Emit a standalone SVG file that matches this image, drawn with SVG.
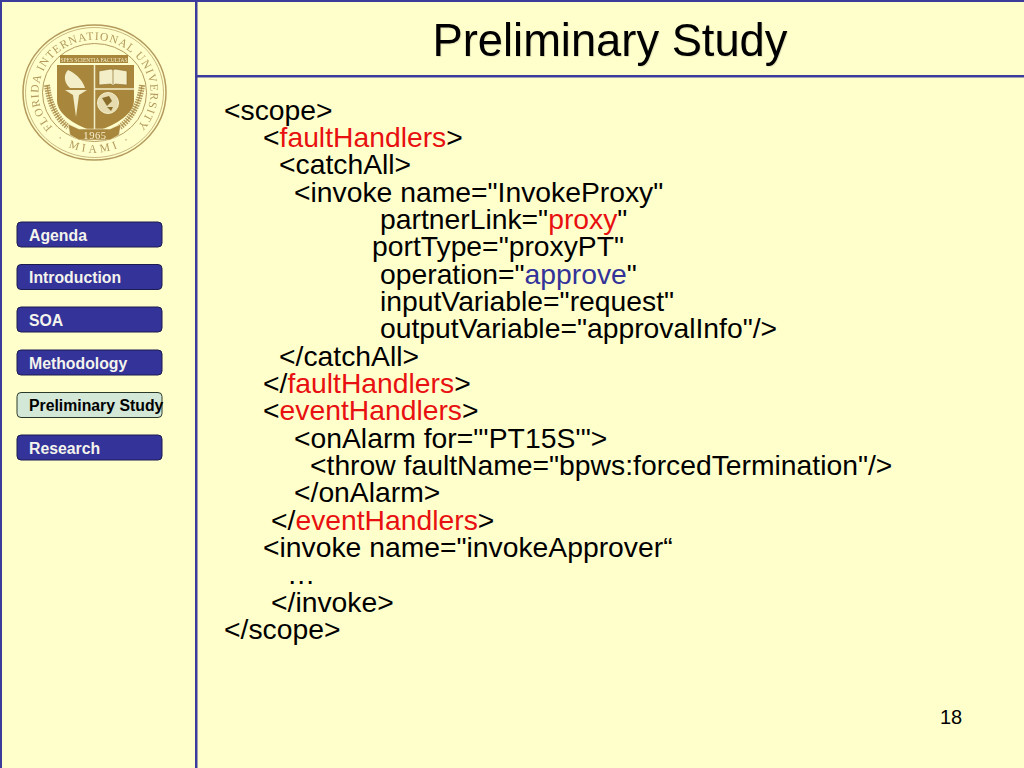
<svg xmlns="http://www.w3.org/2000/svg" width="1024" height="768" viewBox="0 0 1024 768">
<style>
text{font-family:"Liberation Sans",Arial,sans-serif}
.code{font-size:28.300px;fill:#000}
.r{fill:#e81010}
.b{fill:#333399}
.btn{fill:#333399;stroke:#1c1c50;stroke-width:1}
.cur{fill:#d4e8d8;stroke:#2a3a2a;stroke-width:1}
.lbl{font-size:15.800px;font-weight:bold;fill:#f4f4ec}
.lblc{font-size:15.800px;font-weight:bold;fill:#000}
.g{fill:#a8873c}
.gl{fill:none;stroke:#b39a5c}
.st{font-size:11.500px;fill:#b39a5c;font-family:"Liberation Serif",serif}
</style>
<defs>
<path id="arcTop" d="M52.800,127.500 A56,52.500 0 1 1 136.200,127.500"/>
<path id="arcBot" d="M57.300,140.500 A62,60 0 0 0 131.700,140.500"/>
<filter id="soft" x="-5%" y="-5%" width="110%" height="110%"><feGaussianBlur stdDeviation="0.35"/></filter>
<filter id="tsh" x="-5%" y="-5%" width="110%" height="120%"><feDropShadow dx="1" dy="1" stdDeviation="0.7" flood-color="#000" flood-opacity="0.1"/></filter>
</defs>
<rect width="1024" height="768" fill="#ffffcc"/>
<g id="frame" fill="#3c3c9c">
<rect x="0" y="0" width="1024" height="2"/>
<rect x="0" y="0" width="2" height="768"/>
<rect x="195" y="0" width="2.500" height="768"/>
<rect x="195" y="75" width="829" height="2.500"/>
</g>
<g id="seal" filter="url(#soft)">
<ellipse class="gl" cx="94.500" cy="92.500" rx="71.500" ry="67.500" stroke-width="1.500"/>
<ellipse class="gl" cx="94.500" cy="92.500" rx="69" ry="65" stroke-width="0.700"/>
<ellipse class="gl" cx="94.500" cy="92.500" rx="52" ry="49" stroke-width="1"/>
<text class="st"><textPath href="#arcTop" textLength="246" lengthAdjust="spacing">FLORIDA INTERNATIONAL UNIVERSITY</textPath></text>
<text class="st" letter-spacing="3.500"><textPath href="#arcBot" startOffset="50%" text-anchor="middle">· MIAMI ·</textPath></text>
<rect class="g" x="60" y="55" width="68" height="8"/>
<text x="94" y="61.500" font-size="5.500" fill="#f4eec8" text-anchor="middle" style="font-family:'Liberation Serif',serif">SPES SCIENTIA FACULTAS</text>
<path class="g" d="M57,65 H134 V100 C134,116 112,126 95,132 C78,126 57,116 57,100 Z"/>
<path d="M94.500,65 V130 M95,89 H134" stroke="#f4eec8" stroke-width="1.500" fill="none"/>
<path d="M99,71 L111,69 L113,70 L115,69 L127,71 V85 L115,84 L113,86 L111,84 L99,85 Z" fill="#f4eec8" stroke="#8a6d2c" stroke-width="0.600"/>
<path d="M113,70 V86" stroke="#8a6d2c" stroke-width="0.700"/>
<circle cx="108" cy="103" r="10.500" fill="#e6dcb0" stroke="#f4eec8"/>
<path d="M102,98 L109,96 L112,101 L107,106 Z M107,107 L113,107 L111,111 Z" fill="#8a6d2c"/>
<path d="M65,90 H87 L79,95 L76,117 L73,95 Z" fill="#f4eec8"/>
<path d="M70,88 C63,82 64,74 68,70 C73,72 82,78 85,88 Z" fill="#f4eec8"/>
<path d="M47,85 C49,102 56,118 68,127 M142,85 C140,102 132,118 120,127" stroke="#b39a5c" stroke-width="6" stroke-dasharray="1.500 1" fill="none"/>
<path d="M47,85 C49,102 56,118 68,127 M142,85 C140,102 132,118 120,127" stroke="#a8873c" stroke-width="0.800" fill="none"/>
<path d="M68,124 L79,129 L110,129 L121,124 L119,135 L110,140 L79,140 L70,135 Z" fill="#a8873c" stroke="#f4eec8" stroke-width="0.600"/>
<text x="95" y="138.500" font-size="10.500" fill="#f8f2d0" text-anchor="middle" letter-spacing="0.600" style="font-family:'Liberation Serif',serif">1965</text>
</g>
<g id="nav-agenda"><rect class="btn" x="17" y="222" width="145" height="25" rx="4"/><text class="lbl" x="29" y="241">Agenda</text></g>
<g id="nav-introduction"><rect class="btn" x="17" y="264.500" width="145" height="25" rx="4"/><text class="lbl" x="29" y="283">Introduction</text></g>
<g id="nav-soa"><rect class="btn" x="17" y="307" width="145" height="25" rx="4"/><text class="lbl" x="29" y="326">SOA</text></g>
<g id="nav-methodology"><rect class="btn" x="17" y="350" width="145" height="25" rx="4"/><text class="lbl" x="29" y="368.500">Methodology</text></g>
<g id="nav-preliminary"><rect class="cur" x="17" y="392.500" width="145" height="25" rx="4"/><text class="lblc" x="29" y="411">Preliminary Study</text></g>
<g id="nav-research"><rect class="btn" x="17" y="435" width="145" height="25" rx="4"/><text class="lbl" x="29" y="454">Research</text></g>
<g id="title"><text x="610" y="55.500" font-size="45.300" fill="#000" text-anchor="middle" filter="url(#tsh)">Preliminary Study</text></g>
<g id="code">
<text class="code" x="224" y="119.700">&lt;scope&gt;</text>
<text class="code" x="263" y="147">&lt;<tspan class="r">faultHandlers</tspan>&gt;</text>
<text class="code" x="279" y="174.300">&lt;catchAll&gt;</text>
<text class="code" x="294" y="201.700">&lt;invoke name="InvokeProxy"</text>
<text class="code" x="380" y="229">partnerLink="<tspan class="r">proxy</tspan>"</text>
<text class="code" x="372" y="256.300">portType="proxyPT"</text>
<text class="code" x="380" y="283.700">operation="<tspan class="b">approve</tspan>"</text>
<text class="code" x="380" y="311">inputVariable="request"</text>
<text class="code" x="380" y="338.300">outputVariable="approvalInfo"/&gt;</text>
<text class="code" x="279" y="365.700">&lt;/catchAll&gt;</text>
<text class="code" x="263" y="393">&lt;/<tspan class="r">faultHandlers</tspan>&gt;</text>
<text class="code" x="263" y="420.300">&lt;<tspan class="r">eventHandlers</tspan>&gt;</text>
<text class="code" x="294" y="447.700">&lt;onAlarm for="'PT15S'"&gt;</text>
<text class="code" x="310" y="475">&lt;throw faultName="bpws:forcedTermination"/&gt;</text>
<text class="code" x="294" y="502.300">&lt;/onAlarm&gt;</text>
<text class="code" x="271" y="529.700">&lt;/<tspan class="r">eventHandlers</tspan>&gt;</text>
<text class="code" x="263" y="557">&lt;invoke name="invokeApprover“</text>
<text class="code" x="287" y="584.300">…</text>
<text class="code" x="271" y="611.700">&lt;/invoke&gt;</text>
<text class="code" x="224" y="639">&lt;/scope&gt;</text>
</g>
<text id="page" x="951" y="724" font-size="20" fill="#000" text-anchor="middle">18</text>
</svg>
